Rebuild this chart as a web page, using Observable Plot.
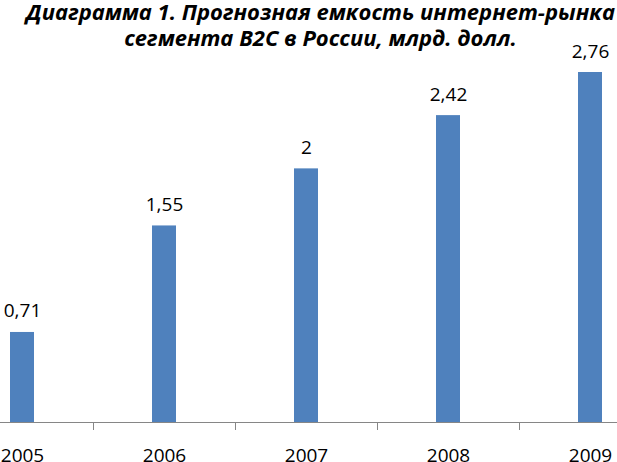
<!DOCTYPE html>
<html>
<head>
<meta charset="utf-8">
<script src="https://cdn.jsdelivr.net/npm/d3@7"></script>
<script src="https://cdn.jsdelivr.net/npm/@observablehq/plot@0.6"></script>
<style>
  html, body { margin: 0; padding: 0; background: #fff; }
  #wrap { position: relative; width: 617px; height: 462px; overflow: hidden; }
  #title {
    position: absolute; left: 12px; top: -2px; width: 617px;
    text-align: center; font-family: "Open Sans", "Noto Sans", sans-serif;
    font-weight: bold; font-style: italic; font-size: 22px; line-height: 26px;
    color: #000; margin: 0; padding: 0;
  }
  #chart { position: absolute; left: 0; top: 0; }
</style>
</head>
<body>
<div id="wrap">
  <div id="chart"></div>
  <div id="title">Диаграмма 1. Прогнозная емкость интернет-рынка<br>сегмента B2C в России, млрд. долл.</div>
</div>
<script>
const years = ["2005", "2006", "2007", "2008", "2009"];
const values = [0.71, 1.55, 2, 2.42, 2.76];
const data = years.map((year, i) => ({year, value: values[i]}));
const fmt = d => String(d).replace(".", ",");

const chart = Plot.plot({
  width: 617,
  height: 462,
  marginTop: 0,
  marginRight: 0,
  marginLeft: 0,
  marginBottom: 40,
  style: {fontFamily: "'Open Sans', 'Noto Sans', sans-serif", background: "#fff"},
  x: {domain: years, range: [-49, 661], padding: 0, axis: null, label: null},
  y: {domain: [0, 2.76], range: [422, 72], axis: null, label: null},
  marks: [
    Plot.barY(data, {x: "year", y: "value", fill: "#4F81BD", insetLeft: 59, insetRight: 59}),
    Plot.ruleY([0], {stroke: "#868686", strokeWidth: 1}),
    Plot.ruleX(years, {x: d => d, y1: 0, y2: 0, insetBottom: -8, dx: 71, stroke: "#868686"}),
    Plot.text(data, {x: "year", y: "value", text: d => fmt(d.value), dy: -15, lineAnchor: "bottom", fontSize: 19, fill: "#000"}),
    Plot.axisX({tickSize: 0, tickPadding: 26, fontSize: 19, color: "#000", label: null})
  ]
});
document.getElementById("chart").appendChild(chart);
</script>
</body>
</html>
